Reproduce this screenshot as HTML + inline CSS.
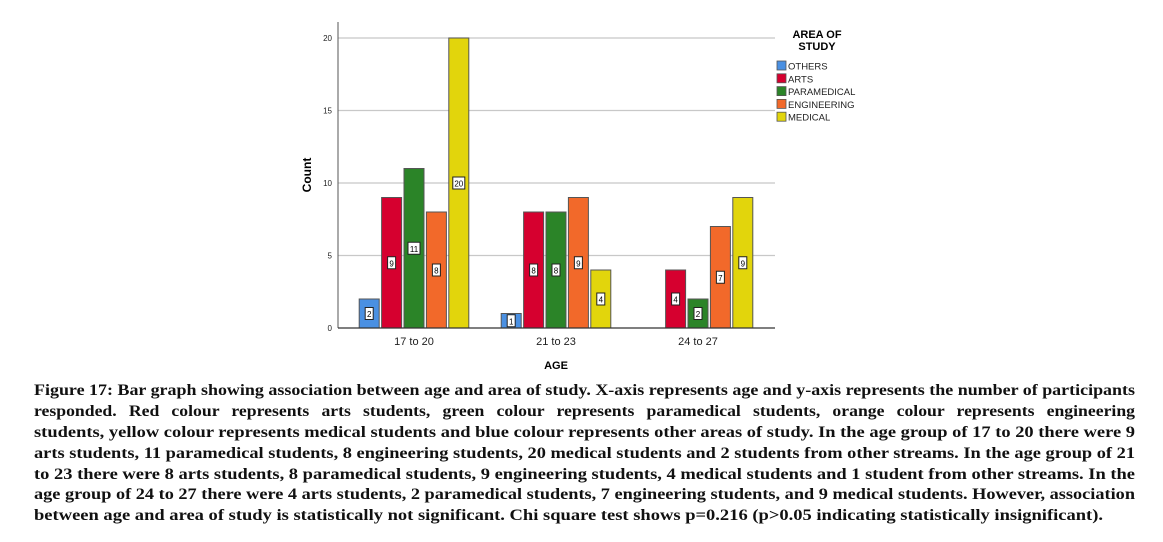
<!DOCTYPE html>
<html><head><meta charset="utf-8"><style>
body{margin:0;background:#fff;width:1163px;height:542px;overflow:hidden}
svg{display:block}
</style></head><body>
<svg id="chart" width="1163" height="542" xmlns="http://www.w3.org/2000/svg" font-family="Liberation Sans, Arial, sans-serif">
<g id="plot"></g>
<g id="legend">
<text x="817" y="38" font-size="11" font-weight="bold" text-anchor="middle">AREA OF</text>
<text x="817" y="50" font-size="11" font-weight="bold" text-anchor="middle">STUDY</text>
</g>
<g font-family="Liberation Serif, serif" font-weight="bold" font-size="16" fill="#111">
<text x="34" y="395" textLength="1101" lengthAdjust="spacingAndGlyphs">Figure 17: Bar graph showing association between age and area of study. X-axis represents age and y-axis represents the number of participants</text>
<text x="34" y="416" textLength="1101" lengthAdjust="spacingAndGlyphs" word-spacing="7">responded. Red colour represents arts students, green colour represents paramedical students, orange colour represents engineering</text>
<text x="34" y="437" textLength="1101" lengthAdjust="spacingAndGlyphs">students, yellow colour represents medical students and blue colour represents other areas of study. In the age group of 17 to 20 there were 9</text>
<text x="34" y="458" textLength="1101" lengthAdjust="spacingAndGlyphs">arts students, 11 paramedical students, 8 engineering students, 20 medical students and 2 students from other streams. In the age group of 21</text>
<text x="34" y="479" textLength="1101" lengthAdjust="spacingAndGlyphs">to 23 there were 8 arts students, 8 paramedical students, 9 engineering students, 4 medical students and 1 student from other streams. In the</text>
<text x="34" y="499" textLength="1101" lengthAdjust="spacingAndGlyphs">age group of 24 to 27 there were 4 arts students, 2 paramedical students, 7 engineering students, and 9 medical students. However, association</text>
<text x="34" y="520" textLength="1069" lengthAdjust="spacingAndGlyphs">between age and area of study is statistically not significant. Chi square test shows p=0.216 (p&gt;0.05 indicating statistically insignificant).</text>
</g>
</svg>
<script>
const categories=["17 to 20","21 to 23","24 to 27"];
const seriesNames=["OTHERS","ARTS","PARAMEDICAL","ENGINEERING","MEDICAL"];
const others=[2,1,0];
const arts=[9,8,4];
const paramedical=[11,8,2];
const engineering=[8,9,7];
const medical=[20,4,9];
const yTicks=[0,5,10,15,20];
const colors=["#4a90e2","#d6002f","#2b8428","#f2692a","#e2d50c"];
const series=[others,arts,paramedical,engineering,medical];

const NS="http://www.w3.org/2000/svg";
const plot=document.getElementById('plot');
const legend=document.getElementById('legend');
const x0=338,x1=775,y0=328,yTop=38;
const yS=v=>y0-(v/20)*(y0-yTop);
const groupStep=142,groupStart=414;
const xC=i=>groupStart+i*groupStep;
const barW=20,barStep=22.4;
function mk(t,a,p){const e=document.createElementNS(NS,t);for(const k in a)e.setAttribute(k,a[k]);(p||plot).appendChild(e);return e;}

yTicks.forEach(v=>{
  if(v>0){const g=mk('line',{x1:x0,x2:x1,y1:yS(v),y2:yS(v),stroke:'#c8c8c8','stroke-width':1.3});
  
  }
  const t=mk('text',{x:x0-6,y:yS(v)+3,'font-size':8,'text-anchor':'end',fill:'#222'});t.textContent=v;
  
  
});
const ax=mk('line',{x1:x0,x2:x0,y1:22,y2:y0,stroke:'#555','stroke-width':1});


const yt=mk('text',{x:311,y:175,'font-size':12,'font-weight':'bold','text-anchor':'middle',transform:'rotate(-90 311 175)'});yt.textContent='Count';



series.forEach((s,j)=>{
  s.forEach((v,i)=>{
    if(v<=0)return;
    const bx=xC(i)-2*barStep-barW/2+j*barStep;
    const r=mk('rect',{x:bx,y:yS(v),width:barW,height:y0-yS(v),fill:colors[j],stroke:'#555','stroke-width':1});
    
    
    const my=(yS(v)+y0)/2;
    const w=String(v).length>1?12:8;
    const lb=mk('rect',{x:bx+barW/2-w/2,y:my-6,width:w,height:12,fill:'#fff',stroke:'#222','stroke-width':1});
    
    
    const lt=mk('text',{x:bx+barW/2,y:my+3.5,'font-size':8,'text-anchor':'middle'});lt.textContent=v;
    
    
  });
});
const xa=mk('line',{x1:x0,x2:x1,y1:y0,y2:y0,stroke:'#333','stroke-width':1.2});


categories.forEach((c,i)=>{
  const t=mk('text',{x:xC(i),y:345,'font-size':11,'text-anchor':'middle',fill:'#222'});t.textContent=c;
  
  
});
const xt=mk('text',{x:556,y:369,'font-size':11,'font-weight':'bold','text-anchor':'middle'});xt.textContent='AGE';



seriesNames.forEach((n,j)=>{
  const y=61+j*12.8;
  const r=mk('rect',{x:777,y:y,width:9,height:9,fill:colors[j],stroke:'#555','stroke-width':0.8},legend);
  
  
  const t=mk('text',{x:788,y:y+8.5,'font-size':9.5,fill:'#222'},legend);t.textContent=n;
  
  
});
</script>
</body></html>
